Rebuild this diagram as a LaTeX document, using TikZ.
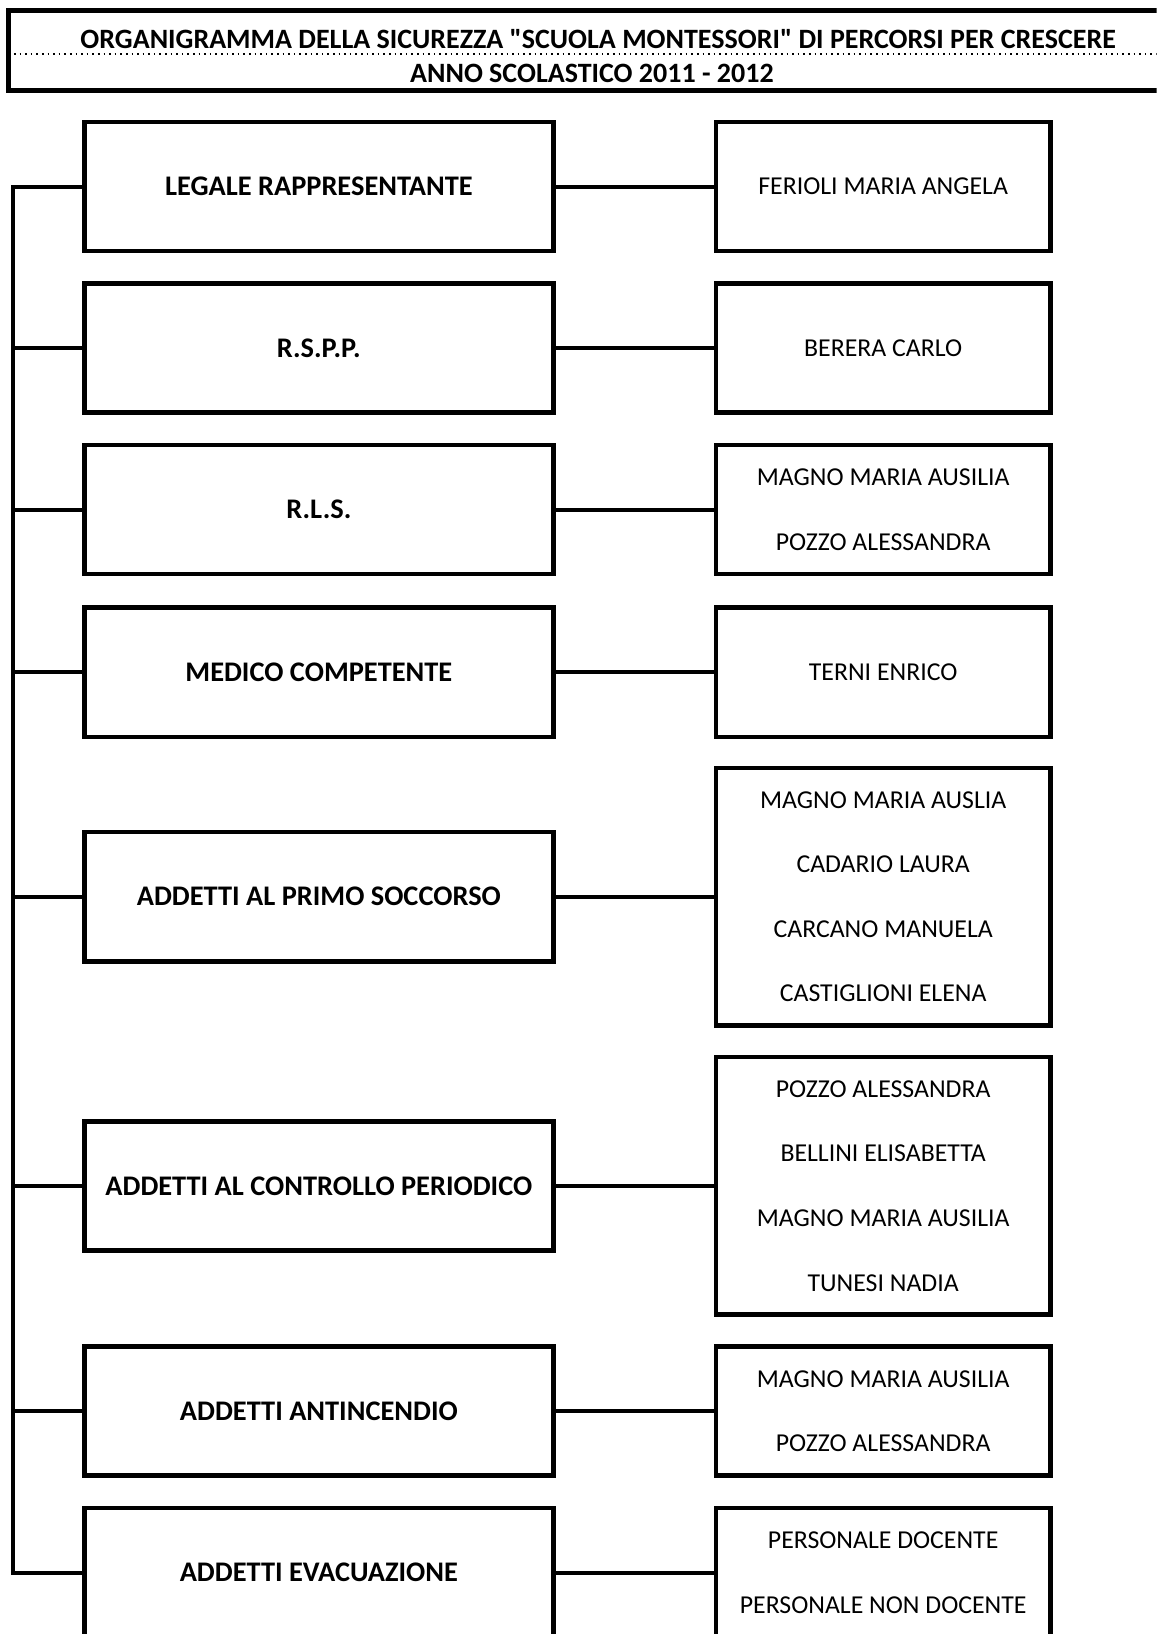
\documentclass[tikz,border=0pt]{standalone}
\usepackage{fontspec}
\setmainfont{Carlito}
\usetikzlibrary{positioning}

\tikzset{
  roleBox/.style={draw, line width=2.2pt, minimum width=234.5pt, minimum height=64.6pt,
    font=\fontsize{14.2}{16}\selectfont\bfseries, align=center},
  nameBox/.style={draw, line width=2.2pt, minimum width=167.3pt, minimum height=64.6pt,
    font=\fontsize{12.9}{32.3}\selectfont, align=center},
  tallBox/.style={nameBox, minimum height=128.7pt},
  link/.style={line width=2pt}
}

\begin{document}
\begin{tikzpicture}[x=0.5212pt, y=-0.5212pt]
  \clip (0,0) rectangle (1110,1568);
  \fill[white] (0,0) rectangle (1110,1568);

  \draw[line width=2.4pt] (8,10) rectangle (1160,87);
  \draw[line width=0.8pt, dotted] (8,52) -- (1160,52);
  \node (titleTop) at (574,37) {\fontsize{14}{16}\selectfont\bfseries ORGANIGRAMMA DELLA SICUREZZA \textquotedbl SCUOLA MONTESSORI\textquotedbl{} DI PERCORSI PER CRESCERE};
  \node (titleYear) at (568,70) {\fontsize{14}{16}\selectfont\bfseries ANNO SCOLASTICO 2011 - 2012};

  \coordinate (trunk) at (12,0);

  \node[roleBox] (legaleRappresentante) at (306,179) {LEGALE RAPPRESENTANTE};
  \node[nameBox] (legaleNames) at (847.5,179) {FERIOLI MARIA ANGELA};

  \node[roleBox] (rspp) at (306,334) {R.S.P.P.};
  \node[nameBox] (rsppNames) at (847.5,334) {BERERA CARLO};

  \node[roleBox] (rls) at (306,489) {R.L.S.};
  \node[nameBox] (rlsNames) at (847.5,489) {MAGNO MARIA AUSILIA\\POZZO ALESSANDRA};

  \node[roleBox] (medicoCompetente) at (306,645) {MEDICO COMPETENTE};
  \node[nameBox] (medicoNames) at (847.5,645) {TERNI ENRICO};

  \node[roleBox] (primoSoccorso) at (306,860.5) {ADDETTI AL PRIMO SOCCORSO};
  \node[tallBox] (primoNames) at (847.5,860.5) {MAGNO MARIA AUSLIA\\CADARIO LAURA\\CARCANO MANUELA\\CASTIGLIONI ELENA};

  \node[roleBox] (controlloPeriodico) at (306,1138) {ADDETTI AL CONTROLLO PERIODICO};
  \node[tallBox] (controlloNames) at (847.5,1138) {POZZO ALESSANDRA\\BELLINI ELISABETTA\\MAGNO MARIA AUSILIA\\TUNESI NADIA};

  \node[roleBox] (antincendio) at (306,1354) {ADDETTI ANTINCENDIO};
  \node[nameBox] (antincendioNames) at (847.5,1354) {MAGNO MARIA AUSILIA\\POZZO ALESSANDRA};

  \node[roleBox] (evacuazione) at (306,1509) {ADDETTI EVACUAZIONE};
  \node[nameBox] (evacuazioneNames) at (847.5,1509) {PERSONALE DOCENTE\\PERSONALE NON DOCENTE};

  \draw[link, line join=miter] (legaleRappresentante.west) -- (legaleRappresentante.west -| trunk)
    -- (evacuazione.west -| trunk) -- (evacuazione.west);
  \foreach \role in {rspp, rls, medicoCompetente, primoSoccorso, controlloPeriodico, antincendio}
    \draw[link] (\role.west) -- (\role.west -| trunk);

  \draw[link] (legaleRappresentante) -- (legaleNames);
  \draw[link] (rspp) -- (rsppNames);
  \draw[link] (rls) -- (rlsNames);
  \draw[link] (medicoCompetente) -- (medicoNames);
  \draw[link] (primoSoccorso) -- (primoNames);
  \draw[link] (controlloPeriodico) -- (controlloNames);
  \draw[link] (antincendio) -- (antincendioNames);
  \draw[link] (evacuazione) -- (evacuazioneNames);
\end{tikzpicture}
\end{document}
